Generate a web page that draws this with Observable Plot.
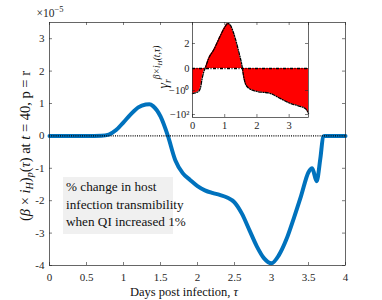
<!DOCTYPE html>
<html><head><meta charset="utf-8">
<script src="https://cdn.jsdelivr.net/npm/d3@7"></script>
<script src="https://cdn.jsdelivr.net/npm/@observablehq/plot@0.6"></script>
<style>
body{margin:0;background:#fff}
#wrap{position:relative;width:382px;height:300px;font-family:"Liberation Serif",serif;overflow:hidden}
#inset{position:absolute;left:150px;top:20px}
#note{position:absolute;left:63px;top:177px;width:110px;height:57px;background:#f0f0f0;
 font-family:"Liberation Serif",serif;font-size:13.2px;line-height:17.5px;color:#111;padding:1px 0 0 3px;box-sizing:border-box;white-space:nowrap}
</style>
</head><body>
<div id="wrap"><div id="note">% change in host<br>infection transmibility<br>when QI increased 1%</div></div>
<script>
// ---- main curve (units of 1e-5) ----
const mainTau = [0,0.3,0.6,0.7,0.8,0.9,1.0,1.1,1.2,1.3,1.35,1.4,1.5,1.6,1.7,1.8,1.9,2.0,2.1,2.2,2.3,2.4,2.5,2.6,2.7,2.8,2.9,3.0,3.1,3.2,3.3,3.4,3.5,3.55,3.61,3.66,3.7,3.72,4.0];
const mainVal = [0,0,0,0.005,0.04,0.18,0.42,0.67,0.88,0.97,0.98,0.92,0.6,0.0,-0.75,-1.15,-1.36,-1.55,-1.68,-1.76,-1.82,-1.9,-2.05,-2.4,-2.9,-3.4,-3.78,-3.93,-3.68,-3.2,-2.55,-1.85,-1.12,-1.0,-1.4,-0.7,-0.02,0,0];
const mainXTicks = [0,0.5,1,1.5,2,2.5,3,3.5,4];
const mainYTicks = [-4,-3,-2,-1,0,1,2,3];

// ---- inset curve ----
const insTau = [0,0.1,0.2,0.25,0.3,0.35,0.39,0.5,0.66,0.87,1.0,1.1,1.2,1.28,1.43,1.55,1.58,1.64,1.75,2.0,2.4,2.72,3.04,3.34,3.5,3.55,3.6];
const insVal = [-1.8,-1.55,-1.1,-0.86,-0.45,-0.15,0,0.8,1.5,2.65,3.3,3.6,3.35,2.8,1.4,0,-0.3,-0.68,-0.9,-1.2,-1.7,-4.6,-12,-21,-32,-45,-83];
const insXTicks = [0,1,2,3];
const insYTicks = [2,0,-1,-100];
const insYLabels = ["2","0","\u221210\u2070","\u221210\u00b2"];

const W=382,H=300,mL=49,mR=37,mT=22,mB=35;
const pw=W-mL-mR, ph=H-mT-mB;
const ax="#262626";
const mainData = mainTau.map((t,i)=>({t,v:mainVal[i]}));

const main = Plot.plot({
  width:W,height:H,marginLeft:mL,marginRight:mR,marginTop:mT,marginBottom:mB,
  style:{fontFamily:"Liberation Serif",fontSize:"11px",background:"transparent",color:ax},
  x:{domain:[0,4],ticks:mainXTicks,tickFormat:d=>String(d),tickSize:0,tickPadding:8,label:null},
  y:{domain:[-4,3.5],ticks:mainYTicks,tickFormat:d=>String(d),tickSize:0,tickPadding:5,label:null},
  marks:[
    Plot.tickX(mainXTicks,{x:d=>d,stroke:ax,strokeWidth:0.6,insetTop:ph-3}),
    Plot.tickX(mainXTicks,{x:d=>d,stroke:ax,strokeWidth:0.6,insetBottom:ph-3}),
    Plot.tickY(mainYTicks,{y:d=>d,stroke:ax,strokeWidth:0.6,insetRight:pw-3}),
    Plot.tickY(mainYTicks,{y:d=>d,stroke:ax,strokeWidth:0.6,insetLeft:pw-3}),
    Plot.line(mainData,{x:"t",y:"v",stroke:"#0072BD",strokeWidth:4,curve:"monotone-x"}),
    Plot.ruleY([0],{x1:0,x2:4,stroke:"#000",strokeWidth:1.3,strokeDasharray:"1,1.2"}),
    Plot.frame({stroke:ax,strokeWidth:0.7})
  ]
});
document.getElementById("wrap").prepend(main);
const s = d3.select(main);
// exponent
const ex = s.append("text").attr("x",50).attr("y",17).attr("font-size",11.5).attr("fill",ax).attr("font-family","Liberation Serif");
ex.append("tspan").text("\u00d710");
ex.append("tspan").attr("dy",-5).attr("font-size",8.5).text("\u22125");
// x label
const xl = s.append("text").attr("x",184).attr("y",296).attr("text-anchor","middle").attr("font-size",12.5).attr("fill","#111").attr("font-family","Liberation Serif");
xl.append("tspan").text("Days post infection, ");
xl.append("tspan").attr("font-style","italic").text("\u03c4");
// y label
const yl = s.append("text").attr("transform","translate(30,146) rotate(-90)").attr("text-anchor","middle").attr("font-size",14.5).attr("fill","#111").attr("font-family","Liberation Serif");
yl.append("tspan").text("(");
yl.append("tspan").attr("font-style","italic").text("\u03b2");
yl.append("tspan").text(" \u00d7 ");
yl.append("tspan").attr("font-style","italic").text("i");
yl.append("tspan").attr("font-style","italic").attr("font-size",10).attr("dy",3).text("H");
yl.append("tspan").attr("dy",-3).text(")");
yl.append("tspan").attr("font-style","italic").attr("font-size",10).attr("dy",3).text("p");
yl.append("tspan").attr("dy",-3).text("(");
yl.append("tspan").attr("font-style","italic").text("\u03c4");
yl.append("tspan").text(") at ");
yl.append("tspan").attr("font-style","italic").text("t");
yl.append("tspan").text(" = 40, p = r");

// ---- inset ----
function tf(v){ if(v>=0) return v; if(v>=-1) return 1.76*v; return -(1.76+0.96*Math.log10(-v)); }
const insData = insTau.map((t,i)=>({t,v:tf(insVal[i])}));
const iL=42,iR=4,iT=2,iB=18,iw=116,ih=95;
const inset = Plot.plot({
  width:iL+iw+iR,height:iT+ih+iB,marginLeft:iL,marginRight:iR,marginTop:iT,marginBottom:iB,
  style:{fontFamily:"Liberation Serif",fontSize:"10.5px",background:"transparent",color:ax},
  x:{domain:[0,3.6],ticks:insXTicks,tickFormat:d=>String(d),tickSize:0,tickPadding:4,label:null},
  y:{domain:[-3.92,3.68],ticks:insYTicks.map(tf),tickFormat:(d,i)=>insYLabels[i],tickSize:0,tickPadding:3,label:null},
  marks:[
    Plot.rect([0],{x1:0,x2:3.6,y1:-3.92,y2:3.68,fill:"#fff"}),
    Plot.areaY(insData,{x:"t",y1:0,y2:"v",fill:"#ff0000",curve:"monotone-x"}),
    Plot.tickX(insXTicks,{x:d=>d,stroke:ax,strokeWidth:0.6,insetTop:ih-3}),
    Plot.tickX(insXTicks,{x:d=>d,stroke:ax,strokeWidth:0.6,insetBottom:ih-3}),
    Plot.tickY(insYTicks.map(tf),{y:d=>d,stroke:ax,strokeWidth:0.6,insetRight:iw-3}),
    Plot.tickY(insYTicks.map(tf),{y:d=>d,stroke:ax,strokeWidth:0.6,insetLeft:iw-3}),
    Plot.line(insData,{x:"t",y:"v",stroke:"#000",strokeWidth:1.3,strokeDasharray:"3,1.5,1,1.5",curve:"monotone-x"}),
    Plot.ruleY([0],{x1:0,x2:3.6,stroke:"#000",strokeWidth:1.3,strokeDasharray:"3,1.5,1,1.5"}),
    Plot.frame({stroke:ax,strokeWidth:0.7})
  ]
});
inset.id="inset";
document.getElementById("wrap").appendChild(inset);
const si = d3.select(inset);
const il = si.append("text").attr("transform","translate(18,47) rotate(-90)").attr("text-anchor","middle").attr("font-size",14).attr("fill","#111").attr("font-family","Liberation Serif");
il.append("tspan").attr("font-style","italic").text("\u03b3");
il.append("tspan").attr("font-style","italic").attr("font-size",9.5).attr("dy",3).text("r");
il.append("tspan").attr("font-style","italic").attr("font-size",9.5).attr("dy",-11).text("\u03b2\u00d7i");
il.append("tspan").attr("font-style","italic").attr("font-size",7).attr("dy",2).text("H");
il.append("tspan").attr("font-style","italic").attr("font-size",9.5).attr("dy",-2).text("(t,\u03c4)");
</script>
</body></html>
